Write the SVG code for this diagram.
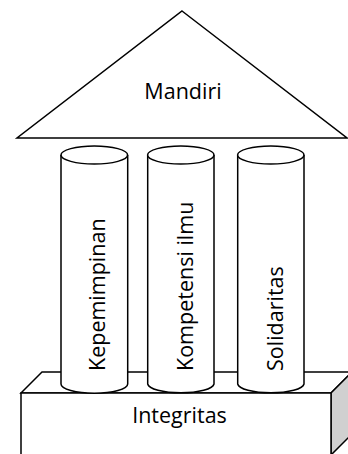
<svg xmlns="http://www.w3.org/2000/svg" width="348" height="454" viewBox="0 0 348 454">
<style>
.s{stroke:#000;stroke-width:1.5;stroke-linejoin:miter;fill:#fff}
.g{fill:#d0d0d0}
.t{font-family:"Open Sans","Noto Sans","Liberation Sans",sans-serif;font-size:21.5px;fill:#000}
</style>
<rect width="348" height="454" fill="#fff"/>
<g id="base">
<polygon class="s" points="21,393 42,372 352,372 331,393"/>
<polygon class="s g" points="331,393 352,372 352,434 331,455"/>
<rect class="s" x="21" y="393" width="310" height="70"/>
<text class="t" x="179.5" y="423.3" text-anchor="middle">Integritas</text>
</g>
<g id="roof">
<polygon class="s" points="182,11 347,138 17,138"/>
<text class="t" x="183" y="98.5" text-anchor="middle">Mandiri</text>
</g>
<g id="pillar1">
<path class="s" d="M61,155 V384 A33.3,9.3 0 0 0 127.7,384 V155"/>
<ellipse class="s" cx="94.3" cy="155" rx="33.3" ry="9"/>
<text class="t" transform="translate(105,371) rotate(-90)">Kepemimpinan</text>
</g>
<g id="pillar2">
<path class="s" d="M147.7,155 V384 A33.2,9.3 0 0 0 214,384 V155"/>
<ellipse class="s" cx="180.8" cy="155" rx="33.2" ry="9"/>
<text class="t" transform="translate(192.5,371) rotate(-90)">Kompetensi ilmu</text>
</g>
<g id="pillar3">
<path class="s" d="M237.7,155 V384 A33.2,9.3 0 0 0 304,384 V155"/>
<ellipse class="s" cx="270.8" cy="155" rx="33.2" ry="9"/>
<text class="t" transform="translate(283,371) rotate(-90)">Solidaritas</text>
</g>
</svg>
